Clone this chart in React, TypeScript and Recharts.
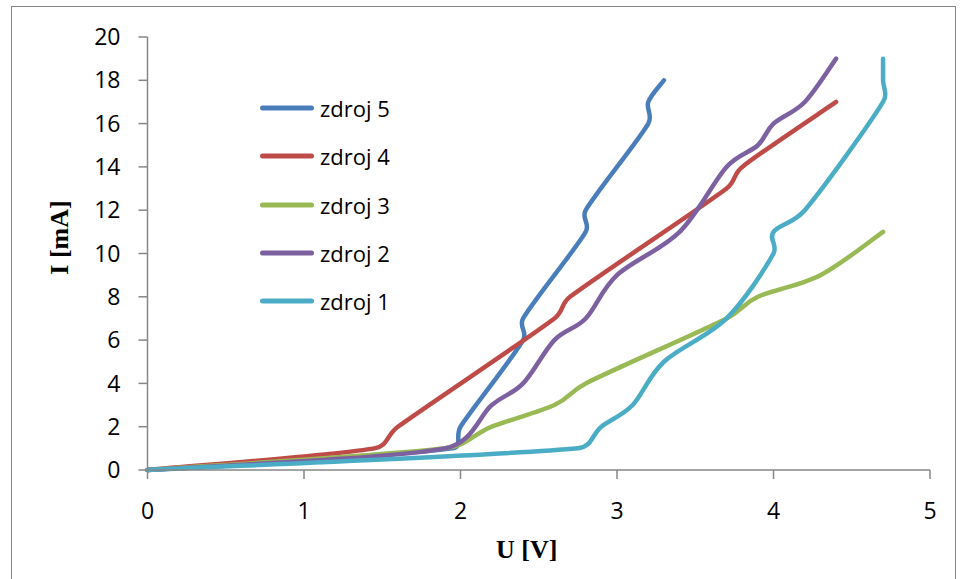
import React from "react";
import { LineChart, Line, XAxis, YAxis, Legend } from "recharts";

// measured points, U [V] vs I [mA]
const zdroj5U = [0, 1.95, 2, 2.4, 2.4, 2.8, 2.8, 3.2, 3.2, 3.3];
const zdroj5I = [0, 1, 2, 6, 7, 11, 12, 16, 17, 18];

const zdroj4U = [0, 1.45, 1.6, 2.6, 2.7, 3.7, 3.8, 4.4];
const zdroj4I = [0, 1, 2, 7, 8, 13, 14, 17];

const zdroj3U = [0, 1.9, 2.2, 2.6, 2.8, 3.7, 3.9, 4.3, 4.7];
const zdroj3I = [0, 1, 2, 3, 4, 7, 8, 9, 11];

const zdroj2U = [0, 1.9, 2.2, 2.4, 2.6, 2.8, 3.0, 3.4, 3.7, 3.9, 4.0, 4.2, 4.4];
const zdroj2I = [0, 1, 3, 4, 6, 7, 9, 11, 14, 15, 16, 17, 19];

const zdroj1U = [0, 2.75, 2.9, 3.1, 3.3, 3.7, 4.0, 4.0, 4.2, 4.7, 4.7, 4.7];
const zdroj1I = [0, 1, 2, 3, 5, 7, 10, 11, 12, 17, 18, 19];

const xTicks = [0, 1, 2, 3, 4, 5];
const yTicks = [0, 2, 4, 6, 8, 10, 12, 14, 16, 18, 20];

const toPoints = (u: number[], i: number[]) => u.map((v, k) => ({ u: v, i: i[k] }));

const series = [
  { name: "zdroj 5", color: "#4A7EBB", data: toPoints(zdroj5U, zdroj5I) },
  { name: "zdroj 4", color: "#BE4B48", data: toPoints(zdroj4U, zdroj4I) },
  { name: "zdroj 3", color: "#98B954", data: toPoints(zdroj3U, zdroj3I) },
  { name: "zdroj 2", color: "#7D60A0", data: toPoints(zdroj2U, zdroj2I) },
  { name: "zdroj 1", color: "#4BACC6", data: toPoints(zdroj1U, zdroj1I) },
];
const seriesOrder = series.map((s) => s.name);

const AXIS = "#868686";
const SANS = '"Open Sans", sans-serif';
const SERIF = '"Liberation Serif", "Times New Roman", serif';

// Excel-like smoothed scatter line (bezier, tangent lengths clamped)
function smoothCurve(context: any) {
  let pts: number[][] = [];
  return {
    areaStart() {},
    areaEnd() {},
    lineStart() {
      pts = [];
    },
    point(x: number, y: number) {
      pts.push([+x, +y]);
    },
    lineEnd() {
      const n = pts.length;
      if (!n) return;
      context.moveTo(pts[0][0], pts[0][1]);
      if (n === 1) return;
      const dist = (a: number[], b: number[]) => Math.hypot(b[0] - a[0], b[1] - a[1]);
      const tan = pts.map((_, k) => {
        const a = pts[Math.max(0, k - 1)];
        const b = pts[Math.min(n - 1, k + 1)];
        const len = dist(a, b) || 1;
        return [(b[0] - a[0]) / len, (b[1] - a[1]) / len, len / 6];
      });
      for (let k = 0; k < n - 1; k++) {
        const p = pts[k];
        const q = pts[k + 1];
        const seg = dist(p, q) * 0.45;
        const d0 = Math.min(tan[k][2], seg);
        const d1 = Math.min(tan[k + 1][2], seg);
        context.bezierCurveTo(
          p[0] + tan[k][0] * d0,
          p[1] + tan[k][1] * d0,
          q[0] - tan[k + 1][0] * d1,
          q[1] - tan[k + 1][1] * d1,
          q[0],
          q[1]
        );
      }
    },
  };
}

// eslint-disable-next-line @typescript-eslint/no-explicit-any
function SeriesLegend({ payload }: any) {
  const items = [...(payload ?? [])].sort(
    (a: { value: string }, b: { value: string }) =>
      seriesOrder.indexOf(a.value) - seriesOrder.indexOf(b.value)
  );
  return (
    <div>
      {items.map((entry: { value: string; color: string }) => (
        <div
          key={entry.value}
          style={{ display: "flex", alignItems: "center", height: 48.3 }}
        >
          <svg width={58} height={10}>
            <line
              x1={4.5}
              y1={5}
              x2={53.5}
              y2={5}
              stroke={entry.color}
              strokeWidth={5}
              strokeLinecap="round"
            />
          </svg>
          <span
            style={{
              marginLeft: 4,
              fontFamily: SANS,
              fontSize: 22,
              color: "#000",
              whiteSpace: "nowrap",
            }}
          >
            {entry.value}
          </span>
        </div>
      ))}
    </div>
  );
}

export default function App() {
  return (
    <div
      style={{
        position: "absolute",
        left: 0,
        top: 0,
        width: 960,
        height: 579,
        overflow: "hidden",
        background: "#fff",
      }}
    >
      <div
        style={{
          position: "absolute",
          left: 11,
          top: 6,
          width: 943,
          height: 620,
          borderLeft: `1.5px solid ${AXIS}`,
          borderTop: `1.5px solid ${AXIS}`,
          borderRight: `1.5px solid ${AXIS}`,
        }}
      />
      <LineChart
        width={960}
        height={579}
        margin={{ top: 37, right: 30, bottom: 0, left: 0 }}
        style={{ position: "absolute", left: 0, top: 0 }}
      >
        <XAxis
          type="number"
          dataKey="u"
          domain={[0, 5]}
          ticks={xTicks}
          interval={0}
          height={109}
          stroke={AXIS}
          strokeWidth={1.5}
          tickSize={9}
          tickMargin={24}
          tick={{ fill: "#000", fontFamily: SANS, fontSize: 23 }}
          allowDuplicatedCategory={false}
          label={{
            value: "U [V]",
            position: "insideBottom",
            offset: 21,
            dx: -12,
            style: { fontFamily: SERIF, fontWeight: "bold", fontSize: 26, fill: "#000" },
          }}
        />
        <YAxis
          type="number"
          dataKey="i"
          domain={[0, 20]}
          ticks={yTicks}
          interval={0}
          width={147.5}
          stroke={AXIS}
          strokeWidth={1.5}
          tickSize={9}
          tickMargin={18}
          tick={{ fill: "#000", fontFamily: SANS, fontSize: 23 }}
          label={{
            value: "I [mA]",
            angle: -90,
            position: "center",
            dx: -15,
            dy: -16,
            style: { fontFamily: SERIF, fontWeight: "bold", fontSize: 26, fill: "#000" },
          }}
        />
        <Legend
          layout="vertical"
          align="center"
          verticalAlign="middle"
          content={<SeriesLegend />}
          wrapperStyle={{ left: 258, top: 84, width: "auto", height: "auto" }}
        />
        {series.map((s) => (
          <Line
            key={s.name}
            name={s.name}
            data={s.data}
            dataKey="i"
            type={smoothCurve as any}
            stroke={s.color}
            strokeWidth={4.5}
            strokeLinecap="round"
            strokeLinejoin="round"
            dot={false}
            activeDot={false}
            isAnimationActive={false}
          />
        ))}
      </LineChart>
    </div>
  );
}
